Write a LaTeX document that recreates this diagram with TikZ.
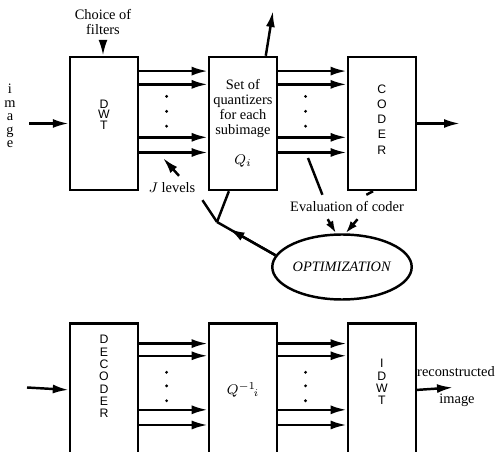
\documentclass[tikz,border=0pt]{standalone}
\usepackage{fontspec}
\setmainfont{Liberation Serif}
\setsansfont{Liberation Sans}
\usetikzlibrary{arrows.meta,positioning,calc,shapes.geometric}

\begin{document}
\begin{tikzpicture}[x=0.02cm,y=-0.02cm,>={Latex[length=3.2mm,width=1.8mm]},
 line width=1.4pt,node distance=2.62cm and 1.37cm,
 font=\fontsize{8.2}{9.5}\selectfont,
 blk/.style={draw,minimum width=1.36cm,minimum height=2.66cm,inner sep=0pt},
 letters/.style={font=\sffamily\fontsize{7}{#1}\selectfont,align=center,inner sep=0pt},
 small/.style={-{Latex[length=2.5mm,width=1.6mm]}}]
\useasboundingbox (0,0) rectangle (497,452);
% analysis chain
\node[blk] (dwt) at (104,123.5) {};
\node[blk,right=of dwt] (quant) {};
\node[blk,right=of quant] (coder) {};
\node[letters=5.9pt,below=0.86cm of dwt.north] (dwtlbl) {D\\W\\T};
\node[align=center,font=\fontsize{8.2}{8.5}\selectfont] at (quant) {Set of\\quantizers\\for each\\subimage\\[8.5pt]$Q_i$};
\node[letters=8.6pt,below=0.56cm of coder.north] (coderlbl) {C\\O\\D\\E\\R};
\node[ellipse,draw,minimum width=2.74cm,minimum height=1.3cm,inner sep=0pt] (opt) at (342,267) {\textit{OPTIMIZATION}};
% synthesis chain
\node[blk,below=of dwt] (dec) {};
\node[blk,right=of dec] (iquant) {$Q^{-1}\!{}_i$};
\node[blk,right=of iquant] (idwt) {};
\node[letters=7pt,below=0.24cm of dec.north] (declbl) {D\\E\\C\\O\\D\\E\\R};
\node[letters=7pt,below=0.72cm of idwt.north] (idwtlbl) {I\\D\\W\\T};
% labels
\node[align=center,inner sep=0pt,font=\fontsize{8.2}{7.6}\selectfont] (img) at (10,116) {i\\m\\a\\g\\e};
\node[align=center,font=\fontsize{8.2}{8}\selectfont] (filt) at (103,22) {Choice of\\filters};
\node (jlev) at (172,188) {$J$ levels};
\node (eval) at (347,207) {Evaluation of coder};
\node (rec) at (456,372) {reconstructed};
\node (rimg) at (457,400) {image};
\coordinate (jn) at (217,222);
\coordinate (jtip) at (163,158);
\coordinate (tap) at (308,158);
\coordinate (qout) at (273,11);
\coordinate (imgin) at (29,123.5);
\coordinate (cout) at (460,123.5);
\coordinate (decin) at (27,387.5);
\coordinate (recout) at (453,387.5);
% subband buses
\foreach \a/\b in {dwt/quant,quant/coder}{
  \foreach \f in {0.113,0.211,0.602,0.714}
    \draw[->] ($(\a.north east)!\f!(\a.south east)$) -- ($(\b.north west)!\f!(\b.south west)$);
  \foreach \f in {0.30,0.41,0.52}{
    \path ($(\a.north east)!\f!(\a.south east)$) coordinate (p) ($(\b.north west)!\f!(\b.south west)$) coordinate (q);
    \fill ($(p)!0.4!(q)$) circle (0.9pt);}}
\foreach \a/\b in {dec/iquant,iquant/idwt}{
  \foreach \f in {0.158,0.248,0.647,0.759}
    \draw[->] ($(\a.north east)!\f!(\a.south east)$) -- ($(\b.north west)!\f!(\b.south west)$);
  \foreach \f in {0.37,0.47,0.58}{
    \path ($(\a.north east)!\f!(\a.south east)$) coordinate (p) ($(\b.north west)!\f!(\b.south west)$) coordinate (q);
    \fill ($(p)!0.4!(q)$) circle (0.9pt);}}
\draw[->] (imgin) -- (dwt.west);
\draw[->] (filt.south) -- (filt.south |- dwt.north);
\draw[->] ([xshift=13pt]quant.north) -- (qout);
\draw[->] (coder.east) -- (cout);
\draw[->] (decin) -- (dec.west);
\draw[->] (idwt.east) -- (recout);
% optimization loop
\draw (opt.170) -- (jn);
\draw[->] (opt.170) -- ($(opt.170)!0.8!(jn)$);
\draw (jn) -- ([xshift=-8pt]quant.south);
\draw (jn) -- (jlev.south east);
\draw[->] ([xshift=4pt]jlev.north) -- (jtip);
\draw (tap) -- ([xshift=-14pt]eval.north);
\draw ([xshift=-5pt]coder.south) -- ([xshift=11pt]eval.north);
\draw[small] ([xshift=-11pt]eval.south) -- (opt.100);
\draw[small] ([xshift=6pt]eval.south) -- (opt.84);
\end{tikzpicture}
\end{document}
